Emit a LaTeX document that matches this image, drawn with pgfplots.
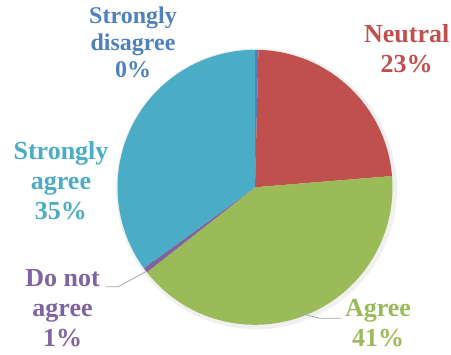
\documentclass[border=0pt]{standalone}
\usepackage{fontspec}
\setmainfont{Liberation Serif}
\newfontfamily\labfont{Liberation Serif Bold}
\usepackage{pgfplots}
\pgfplotsset{compat=1.18}
\definecolor{cSD}{HTML}{4F81BD}
\definecolor{cN}{HTML}{C0504D}
\definecolor{cA}{HTML}{9BBB59}
\definecolor{cDA}{HTML}{8064A2}
\definecolor{cSA}{HTML}{4BACC6}
\definecolor{leader}{HTML}{A6A6A6}
% shares in percent (clockwise from 12 o'clock)
\def\vSD{0.4}
\def\vN{23.3}
\def\vA{40.7}
\def\vDA{0.6}
\def\vSA{35.0}
\pgfmathsetmacro\aZero{90}
\pgfmathsetmacro\aOne{90-3.6*\vSD}
\pgfmathsetmacro\aTwo{\aOne-3.6*\vN}
\pgfmathsetmacro\aThree{\aTwo-3.6*\vA}
\pgfmathsetmacro\aFour{\aThree-3.6*\vDA}
\pgfmathsetmacro\aFive{\aFour-3.6*\vSA}
\def\cx{255}
\def\cy{167.7}
\def\r{137.5}
\begin{document}
\begin{tikzpicture}
\begin{axis}[
  width=451pt, height=355pt, scale only axis,
  xmin=0, xmax=451, ymin=0, ymax=355,
  hide axis, clip=false,
]
\addplot[fill=black, fill opacity=0.06, draw=none, domain=0:360, samples=120, variable=\t]
  ({\cx+1.5+(\r+3)*cos(\t)},{\cy-1.5+(\r+3)*sin(\t)});
\addplot[fill=cSD, draw=none, domain=\aOne:\aZero, samples=10, variable=\t]
  ({\cx+\r*cos(\t)},{\cy+\r*sin(\t)}) -- (axis cs:\cx,\cy) -- cycle;
\addplot[fill=cN, draw=none, domain=\aTwo:\aOne, samples=80, variable=\t]
  ({\cx+\r*cos(\t)},{\cy+\r*sin(\t)}) -- (axis cs:\cx,\cy) -- cycle;
\addplot[fill=cA, draw=none, domain=\aThree:\aTwo, samples=120, variable=\t]
  ({\cx+\r*cos(\t)},{\cy+\r*sin(\t)}) -- (axis cs:\cx,\cy) -- cycle;
\addplot[fill=cDA, draw=none, domain=\aFour:\aThree, samples=10, variable=\t]
  ({\cx+\r*cos(\t)},{\cy+\r*sin(\t)}) -- (axis cs:\cx,\cy) -- cycle;
\addplot[fill=cSA, draw=none, domain=\aFive:\aFour, samples=120, variable=\t]
  ({\cx+\r*cos(\t)},{\cy+\r*sin(\t)}) -- (axis cs:\cx,\cy) -- cycle;

\draw[leader, line width=0.8pt] (axis cs:145.7,83.3) -- (axis cs:118.3,68.3) -- (axis cs:106,68.3);
\draw[leader, line width=0.8pt] (axis cs:300,41.7) -- (axis cs:320,36.7) -- (axis cs:341.7,36.7);

\node[cSD, align=center, font=\labfont\fontsize{24}{27}\selectfont] at (axis cs:133,313) {Strongly\\disagree\\0\%};
\node[cN, align=center, font=\labfont\fontsize{26}{30}\selectfont] at (axis cs:406.7,306) {Neutral\\23\%};
\node[cSA, align=center, font=\labfont\fontsize{26}{30}\selectfont] at (axis cs:61,174) {Strongly\\agree\\35\%};
\node[cDA, align=center, font=\labfont\fontsize{26}{30}\selectfont] at (axis cs:62.5,47) {Do not\\agree\\1\%};
\node[cA, align=center, font=\labfont\fontsize{26}{30}\selectfont] at (axis cs:378,32) {Agree\\41\%};
\end{axis}
\pgfresetboundingbox
\path (current axis.south west) rectangle (current axis.north east);
\end{tikzpicture}
\end{document}
